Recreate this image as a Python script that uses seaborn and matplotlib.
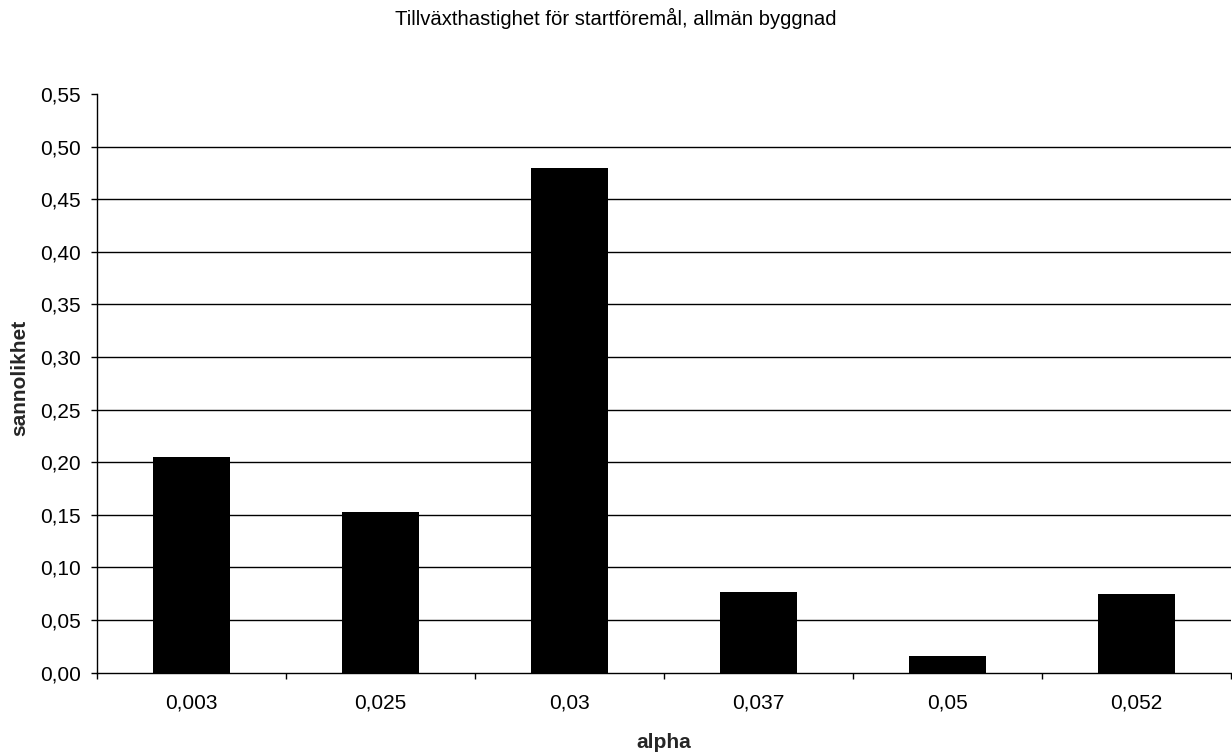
import matplotlib
matplotlib.use("Agg")
import matplotlib.pyplot as plt
import numpy as np
import pandas as pd
import seaborn as sns

# Data
alpha_values = ["0,003", "0,025", "0,03", "0,037", "0,05", "0,052"]
probabilities = [0.205, 0.153, 0.480, 0.077, 0.016, 0.075]
y_ticks = [0.00, 0.05, 0.10, 0.15, 0.20, 0.25, 0.30, 0.35, 0.40, 0.45, 0.50, 0.55]

title = "Tillväxthastighet för startföremål, allmän byggnad"
x_label = "alpha"
y_label = "sannolikhet"

sns.set_theme(style="white")
plt.rcParams["font.family"] = ["Liberation Sans", "DejaVu Sans"]

W, H = 1232, 752
fig = plt.figure(figsize=(W / 100, H / 100), dpi=100)
left, right, top, bottom = 97, 1231, 94, 672.7
ax = fig.add_axes([left / W, 1 - bottom / H, (right - left) / W, (bottom - top) / H])

df = pd.DataFrame({"alpha": alpha_values, "sannolikhet": probabilities})
sns.barplot(data=df, x="alpha", y="sannolikhet", order=alpha_values,
            color="black", saturation=1, width=0.41, linewidth=0, ax=ax, zorder=3)

ax.set_xlim(-0.5, len(alpha_values) - 0.5)
ax.set_ylim(y_ticks[0], y_ticks[-1])

# horizontal gridlines (none at the top of the scale)
for v in y_ticks[1:-1]:
    ax.axhline(v, color="black", lw=1.0, zorder=1)

ax.set_yticks(y_ticks)
ax.set_yticklabels([f"{v:.2f}".replace(".", ",") for v in y_ticks])

# category separators as minor ticks
ax.set_xticks(np.arange(-0.5, len(alpha_values), 1.0), minor=True)
ax.tick_params(axis="x", which="major", length=0, pad=15, labelsize=15, colors="black")
ax.tick_params(axis="x", which="minor", length=4.5, width=1, direction="out", color="black", bottom=True)
ax.tick_params(axis="y", which="major", length=4.5, width=1, direction="out", pad=7,
               labelsize=15, colors="black", left=True)

for s in ["top", "right"]:
    ax.spines[s].set_visible(False)
for s in ["left", "bottom"]:
    ax.spines[s].set_color("black")
    ax.spines[s].set_linewidth(1.0)
    ax.spines[s].set_zorder(4)

ax.set_xlabel(x_label, fontsize=15, fontweight="bold", va="center")
ax.set_ylabel(y_label, fontsize=15, fontweight="bold", va="center")
ax.xaxis.set_label_coords(0.5, (bottom - 742) / (bottom - top))
ax.yaxis.set_label_coords((20 - left) / (right - left), (bottom - 378) / (bottom - top))

fig.text(0.5, 1 - 18 / H, title, ha="center", va="center", fontsize=14.6, color="black")

fig.savefig("out.png", dpi=100, facecolor="white")
